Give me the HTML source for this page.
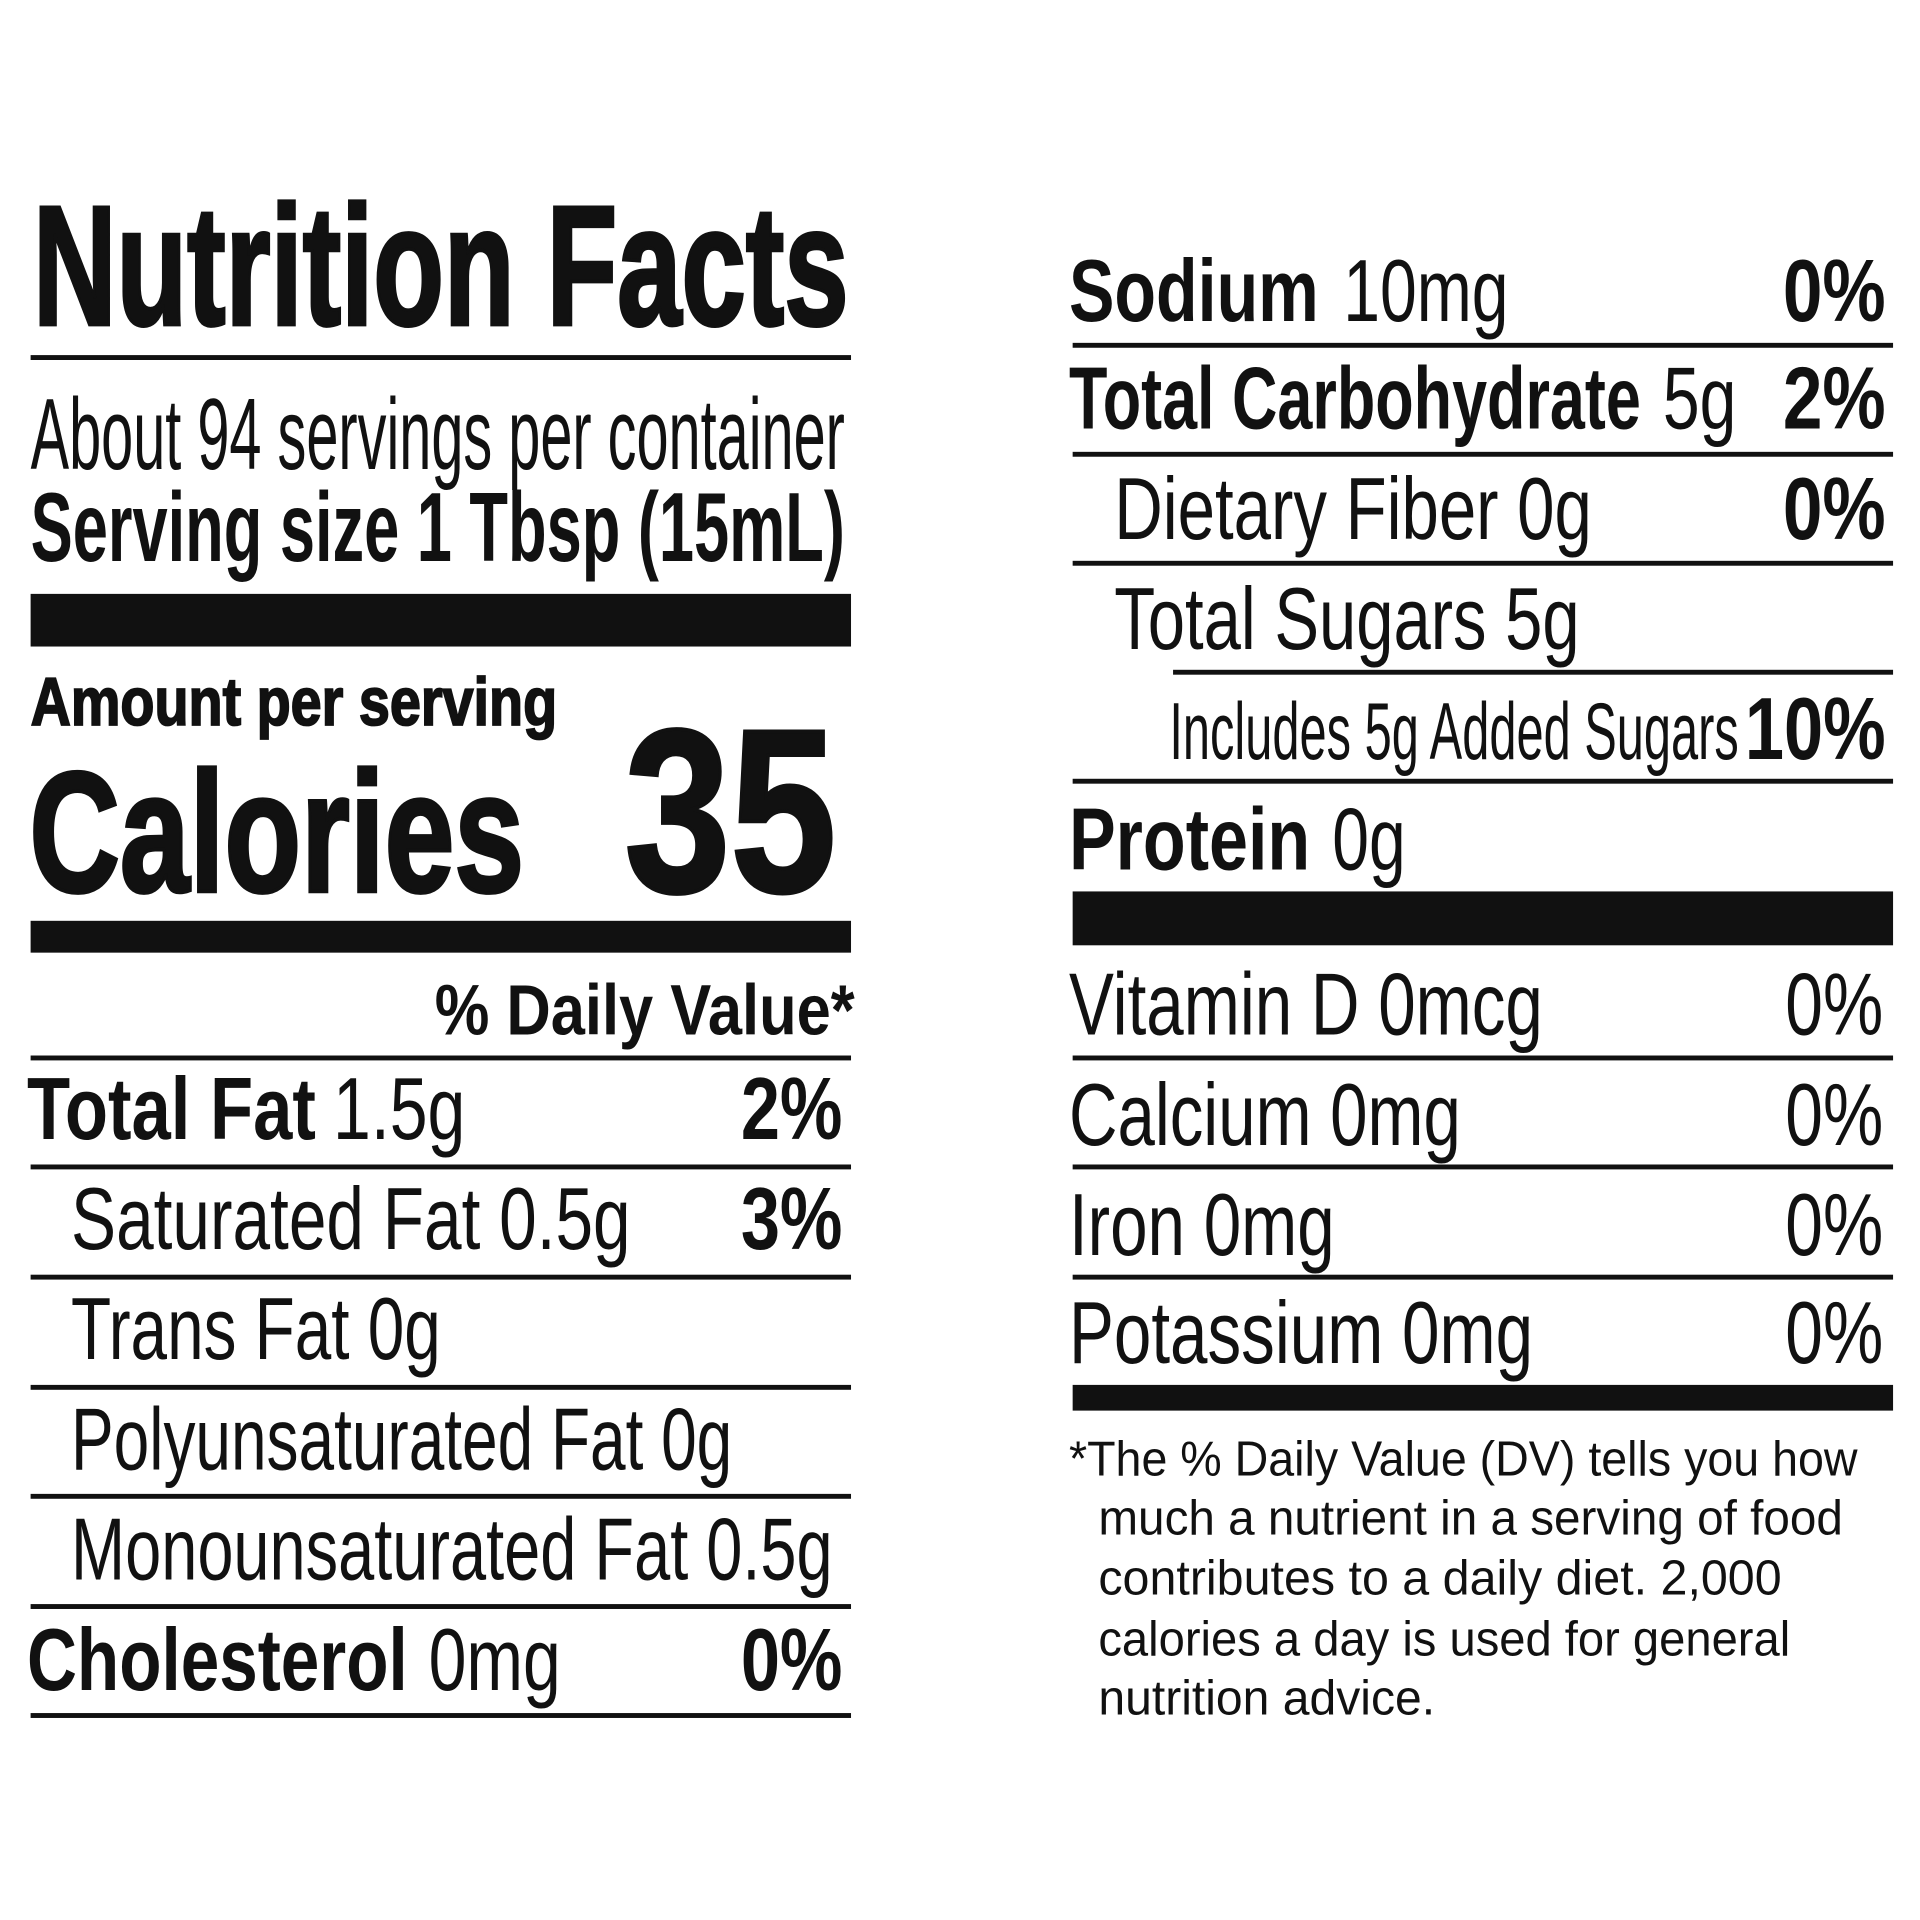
<!DOCTYPE html>
<html><head><meta charset="utf-8"><style>
html,body{margin:0;padding:0;background:#fff;}
svg{display:block}
text{font-family:"Liberation Sans",sans-serif;fill:#111;}
.b{font-weight:bold}
.h{stroke:#111;stroke-width:3;}
</style></head><body>
<svg width="1920" height="1920" viewBox="0 0 1568 1568" xmlns="http://www.w3.org/2000/svg">
<g fill="#111">
<rect x="25" y="290" width="670" height="4"/>
<rect x="25" y="485" width="670" height="43"/>
<rect x="25" y="752" width="670" height="26"/>
<rect x="25" y="862" width="670" height="4"/>
<rect x="25" y="951" width="670" height="4"/>
<rect x="25" y="1041" width="670" height="4"/>
<rect x="25" y="1131" width="670" height="4"/>
<rect x="25" y="1220" width="670" height="4"/>
<rect x="25" y="1310" width="670" height="4"/>
<rect x="25" y="1399" width="670" height="4"/>

<rect x="876" y="280" width="670" height="4"/>
<rect x="876" y="369" width="670" height="4"/>
<rect x="876" y="458" width="670" height="4"/>
<rect x="958" y="547" width="588" height="4"/>
<rect x="876" y="636" width="670" height="4"/>
<rect x="876" y="728" width="670" height="44"/>
<rect x="876" y="862" width="670" height="4"/>
<rect x="876" y="951" width="670" height="4"/>
<rect x="876" y="1041" width="670" height="4"/>
<rect x="876" y="1131" width="670" height="21"/>
</g>

<text class="b h" x="27" y="265" font-size="139" textLength="666" lengthAdjust="spacingAndGlyphs">Nutrition Facts</text>
<text x="25" y="383" font-size="83" textLength="665" lengthAdjust="spacingAndGlyphs">About 94 servings per container</text>
<text class="b" x="25" y="458" font-size="80" textLength="665" lengthAdjust="spacingAndGlyphs">Serving size 1 Tbsp (15mL)</text>
<text class="b" x="25" y="592" font-size="55" textLength="430" lengthAdjust="spacingAndGlyphs" style="stroke:#111;stroke-width:1.5">Amount per serving</text>
<text class="b h" x="24" y="728" font-size="140" textLength="404" lengthAdjust="spacingAndGlyphs">Calories</text>
<text class="b h" x="510" y="728" font-size="190" textLength="173" lengthAdjust="spacingAndGlyphs">35</text>
<text class="b" x="355" y="845" font-size="58" textLength="343" lengthAdjust="spacingAndGlyphs">% Daily Value*</text>

<text class="b" x="22" y="930" font-size="72" textLength="236" lengthAdjust="spacingAndGlyphs">Total Fat</text>
<text x="272" y="930" font-size="72" textLength="108" lengthAdjust="spacingAndGlyphs">1.5g</text>
<text class="b" x="605" y="930" font-size="72" textLength="83" lengthAdjust="spacingAndGlyphs">2%</text>
<text x="58" y="1020" font-size="72" textLength="457" lengthAdjust="spacingAndGlyphs">Saturated Fat 0.5g</text>
<text class="b" x="605" y="1020" font-size="72" textLength="83" lengthAdjust="spacingAndGlyphs">3%</text>
<text x="58" y="1110" font-size="72" textLength="302" lengthAdjust="spacingAndGlyphs">Trans Fat 0g</text>
<text x="58" y="1200" font-size="72" textLength="540" lengthAdjust="spacingAndGlyphs">Polyunsaturated Fat 0g</text>
<text x="58" y="1290" font-size="72" textLength="622" lengthAdjust="spacingAndGlyphs">Monounsaturated Fat 0.5g</text>
<text class="b" x="22" y="1380" font-size="72" textLength="311" lengthAdjust="spacingAndGlyphs">Cholesterol</text>
<text x="350" y="1380" font-size="72" textLength="108" lengthAdjust="spacingAndGlyphs">0mg</text>
<text class="b" x="605" y="1380" font-size="72" textLength="83" lengthAdjust="spacingAndGlyphs">0%</text>

<text class="b" x="873" y="262" font-size="72" textLength="204" lengthAdjust="spacingAndGlyphs">Sodium</text>
<text x="1097" y="262" font-size="72" textLength="135" lengthAdjust="spacingAndGlyphs">10mg</text>
<text class="b" x="1456" y="262" font-size="72" textLength="84" lengthAdjust="spacingAndGlyphs">0%</text>
<text class="b" x="873" y="350" font-size="72" textLength="467" lengthAdjust="spacingAndGlyphs">Total Carbohydrate</text>
<text x="1358" y="350" font-size="72" textLength="60" lengthAdjust="spacingAndGlyphs">5g</text>
<text class="b" x="1456" y="350" font-size="72" textLength="84" lengthAdjust="spacingAndGlyphs">2%</text>
<text x="910" y="440" font-size="72" textLength="390" lengthAdjust="spacingAndGlyphs">Dietary Fiber 0g</text>
<text class="b" x="1456" y="440" font-size="72" textLength="84" lengthAdjust="spacingAndGlyphs">0%</text>
<text x="910" y="530" font-size="72" textLength="380" lengthAdjust="spacingAndGlyphs">Total Sugars 5g</text>
<text x="955" y="620" font-size="66" textLength="465" lengthAdjust="spacingAndGlyphs">Includes 5g Added Sugars</text>
<text class="b" x="1425" y="620" font-size="72" textLength="115" lengthAdjust="spacingAndGlyphs">10%</text>
<text class="b" x="873" y="710" font-size="72" textLength="197" lengthAdjust="spacingAndGlyphs">Protein</text>
<text x="1088" y="710" font-size="72" textLength="60" lengthAdjust="spacingAndGlyphs">0g</text>

<text x="873" y="845" font-size="72" textLength="387" lengthAdjust="spacingAndGlyphs">Vitamin D 0mcg</text>
<text x="1458" y="845" font-size="72" textLength="80" lengthAdjust="spacingAndGlyphs">0%</text>
<text x="873" y="935" font-size="72" textLength="320" lengthAdjust="spacingAndGlyphs">Calcium 0mg</text>
<text x="1458" y="935" font-size="72" textLength="80" lengthAdjust="spacingAndGlyphs">0%</text>
<text x="873" y="1025" font-size="72" textLength="217" lengthAdjust="spacingAndGlyphs">Iron 0mg</text>
<text x="1458" y="1025" font-size="72" textLength="80" lengthAdjust="spacingAndGlyphs">0%</text>
<text x="873" y="1113" font-size="72" textLength="379" lengthAdjust="spacingAndGlyphs">Potassium 0mg</text>
<text x="1458" y="1113" font-size="72" textLength="80" lengthAdjust="spacingAndGlyphs">0%</text>

<text x="873" y="1205" font-size="40" textLength="644" lengthAdjust="spacingAndGlyphs">*The % Daily Value (DV) tells you how</text>
<text x="897" y="1253" font-size="40" textLength="608" lengthAdjust="spacingAndGlyphs">much a nutrient in a serving of food</text>
<text x="897" y="1302" font-size="40" textLength="558" lengthAdjust="spacingAndGlyphs">contributes to a daily diet. 2,000</text>
<text x="897" y="1352" font-size="40" textLength="565" lengthAdjust="spacingAndGlyphs">calories a day is used for general</text>
<text x="897" y="1400" font-size="40" textLength="275" lengthAdjust="spacingAndGlyphs">nutrition advice.</text>
</svg>
</body></html>
